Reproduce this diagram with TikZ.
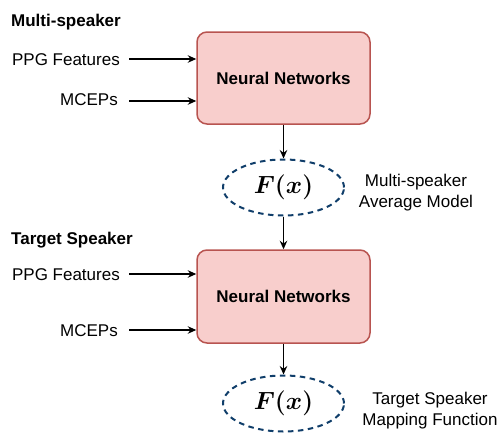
\documentclass[tikz,border=0pt]{standalone}
\usepackage{amsmath}
\usepackage{fontspec}
\setmainfont{Liberation Sans}
\usetikzlibrary{arrows.meta,shapes.geometric}
\definecolor{nnfill}{HTML}{F8CECC}
\definecolor{nnline}{HTML}{B85450}
\definecolor{fxline}{RGB}{16,62,106}
\begin{document}
\begin{tikzpicture}[x=1pt,y=-1pt,
  txt/.style={font=\fontsize{17}{21}\selectfont, inner sep=0pt},
  btxt/.style={font=\fontsize{17}{21}\selectfont\bfseries, inner sep=0pt},
  nnbox/.style={draw=nnline, fill=nnfill, line width=1.5pt, rounded corners=10pt,
    minimum width=173pt, minimum height=92pt, font=\fontsize{17}{21}\selectfont\bfseries},
  fxnode/.style={draw=fxline, line width=2pt, dash pattern=on 5.5pt off 4.5pt, ellipse,
    minimum width=121pt, minimum height=56pt, inner sep=0pt, font=\fontsize{23.5}{28}\selectfont},
  arr/.style={-{Stealth[length=8.5pt,width=7.5pt]}, line width=1.3pt},
  side/.style={align=center, font=\fontsize{17}{21}\selectfont, inner sep=0pt}
]
\useasboundingbox (0,0) rectangle (503,434);

% top section
\node[btxt, anchor=base west] (t1) at (11,26) {Multi-speaker};
\node[nnbox] (nn1) at (283.5,78) {Neural Networks};
\node[txt, anchor=base east] (p1) at (120,65) {PPG Features};
\node[txt, anchor=base east] (m1) at (118,105) {MCEPs};
\coordinate (p1a) at (129,59);
\coordinate (m1a) at (129,101);
\draw[arr] (p1a) -- (p1a -| nn1.west);
\draw[arr] (m1a) -- (m1a -| nn1.west);
\node[fxnode] (f1) at (283.5,187.5) {$\boldsymbol{F(x)}$};
\draw[arr] (nn1.south) -- (f1.north);
\node[side] (s1) at (416,193) {Multi-speaker\\Average Model};

% bottom section
\node[btxt, anchor=base west] (t2) at (11,244) {Target Speaker};
\node[nnbox, minimum height=93pt] (nn2) at (283.5,296.5) {Neural Networks};
\node[txt, anchor=base east] (p2) at (120,280) {PPG Features};
\node[txt, anchor=base east] (m2) at (118,336) {MCEPs};
\coordinate (p2a) at (129,274);
\coordinate (m2a) at (129,330);
\draw[arr] (p2a) -- (p2a -| nn2.west);
\draw[arr] (m2a) -- (m2a -| nn2.west);
\draw[arr] (f1.south) -- (nn2.north);
\node[fxnode] (f2) at (283.5,403.5) {$\boldsymbol{F(x)}$};
\draw[arr] (nn2.south) -- (f2.north);
\node[side] (s2) at (430,411) {Target Speaker\\Mapping Function};
\end{tikzpicture}
\end{document}
